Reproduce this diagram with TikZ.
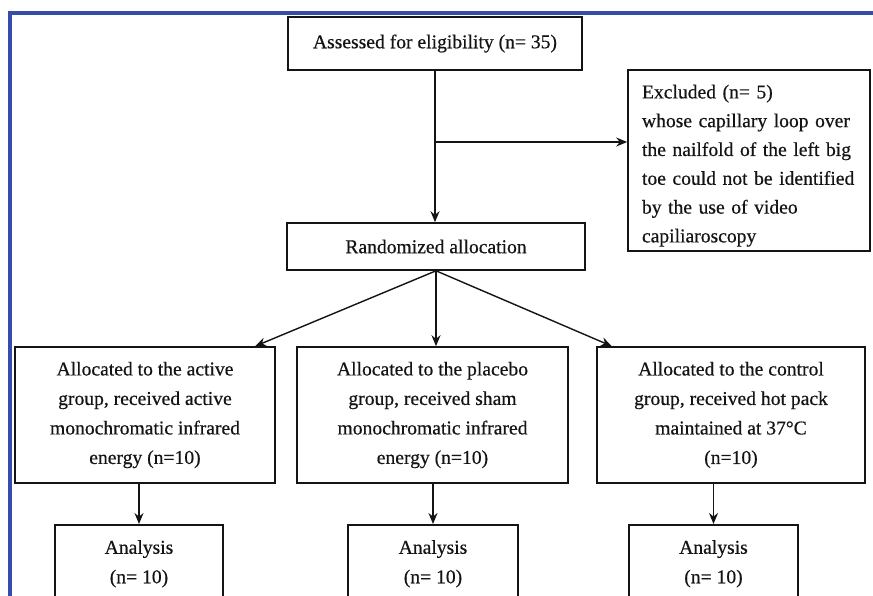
\documentclass[tikz,border=0pt]{standalone}
\usepackage{fontspec}
\setmainfont{Liberation Serif}
\newfontfamily\heavyserif{Liberation Serif}[FakeBold=0.5]
\usetikzlibrary{arrows.meta,calc}
\definecolor{frameblue}{RGB}{55,75,170}
\definecolor{ink}{RGB}{20,20,20}
\begin{document}
\begin{tikzpicture}[x=1pt,y=-1pt,
  box/.style={draw=ink, line width=1.6pt, inner sep=0pt, text=ink,
    font=\heavyserif\fontsize{19.6}{29.5}\selectfont, align=center},
  arr/.style={line width=1.4pt, draw=ink, -{Stealth[length=11pt,width=9pt]}}]
\useasboundingbox (0,0) rectangle (873,595);
\clip (0,0) rectangle (873,595);
\fill[white] (0,0) rectangle (873,595);
\draw[line width=3.5pt, draw=frameblue] (10,600) -- (10,13) -- (880,13);

\node[box, minimum width=294pt, minimum height=53pt] (top) at (435,43.5)
  {Assessed for eligibility (n= 35)};
\node[box, align=left, text width=214pt, inner xsep=14pt, minimum height=181pt,
  font=\heavyserif\fontsize{19.6}{28.8}\selectfont] (excl) at (749,160.5)
  {\rule{0pt}{24pt}Excluded (n= 5)\\whose capillary loop over\\the nailfold of the left big\\toe could not be identified\\by the use of video\\capiliaroscopy};
\node[box, minimum width=298pt, minimum height=47pt] (rand) at (436,246.5)
  {Randomized allocation};

\node[box, minimum width=260pt, minimum height=136pt] (lbox) at (145,415)
  {Allocated to the active\\group, received active\\monochromatic infrared\\energy (n=10)};
\node[box, minimum width=271pt, minimum height=136pt] (mbox) at (432.5,415)
  {Allocated to the placebo\\group, received sham\\monochromatic infrared\\energy (n=10)};
\node[box, minimum width=268pt, minimum height=136pt] (rbox) at (731,415)
  {Allocated to the control\\group, received hot pack\\maintained at 37°C\\(n=10)};

\node[box, anchor=north, minimum width=168pt, minimum height=78pt] (la) at (139,524)
  {Analysis\\(n= 10)};
\node[box, anchor=north, minimum width=170pt, minimum height=78pt] (ma) at (433,524)
  {Analysis\\(n= 10)};
\node[box, anchor=north, minimum width=169pt, minimum height=78pt] (ra) at (713.5,524)
  {Analysis\\(n= 10)};

\coordinate (j) at (435,142);
\draw[arr] (top.south) -- (top.south |- rand.north);
\draw[arr] (j) -- (j -| excl.west);

\draw[arr] (rand.south) -- (lbox.32);
\draw[arr] (rand.south) -- (rand.south |- mbox.north);
\draw[arr] (rand.south) -- (rbox.150);

\draw[arr] (la.north |- lbox.south) -- (la.north);
\draw[arr] (ma.north |- mbox.south) -- (ma.north);
\draw[arr] (ra.north |- rbox.south) -- (ra.north);
\end{tikzpicture}
\end{document}
